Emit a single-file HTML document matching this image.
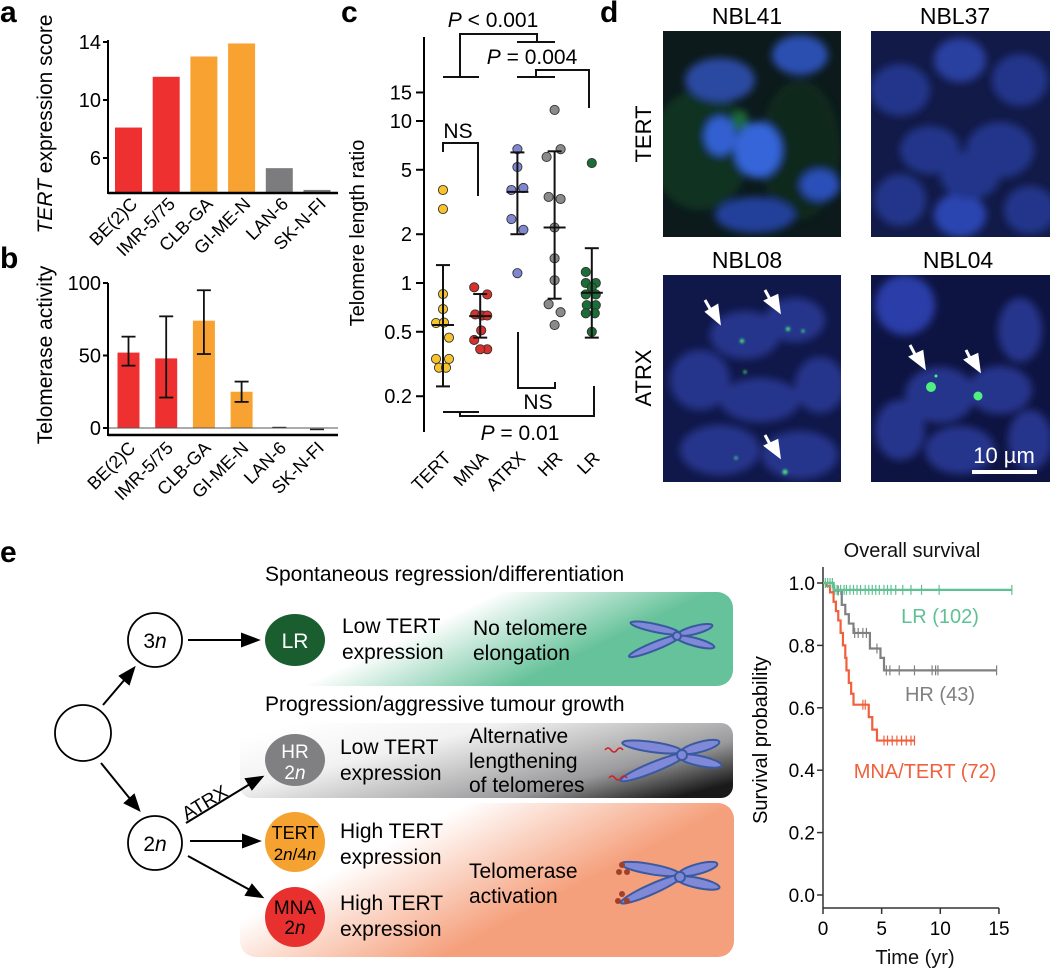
<!DOCTYPE html>
<html><head><meta charset="utf-8">
<style>
html,body{margin:0;padding:0;background:#fff;}
svg{display:block;font-family:"Liberation Sans",Arial,sans-serif;}
</style></head>
<body>
<svg id="fig" width="1050" height="970" viewBox="0 0 1050 970" xmlns="http://www.w3.org/2000/svg">
<defs>
  <filter id="blur4" x="-30%" y="-30%" width="160%" height="160%"><feGaussianBlur stdDeviation="4"/></filter>
  <filter id="blur1" x="-50%" y="-50%" width="200%" height="200%"><feGaussianBlur stdDeviation="1.2"/></filter>
  <linearGradient id="gGreen" x1="0" y1="0.3" x2="1" y2="0.7"><stop offset="0" stop-color="#fff"/><stop offset="0.35" stop-color="#fff"/><stop offset="0.72" stop-color="#66c29a"/><stop offset="1" stop-color="#66c29a"/></linearGradient>
  <linearGradient id="gGray" x1="0" y1="0.2" x2="1" y2="0.8"><stop offset="0" stop-color="#fff"/><stop offset="0.3" stop-color="#f2f2f2"/><stop offset="0.75" stop-color="#9a9a9c"/><stop offset="1" stop-color="#1a1a1a"/></linearGradient>
  <linearGradient id="gOrange" x1="0" y1="0.2" x2="1" y2="0.8"><stop offset="0" stop-color="#fff"/><stop offset="0.25" stop-color="#fff"/><stop offset="0.65" stop-color="#f5a07c"/><stop offset="1" stop-color="#f5a07c"/></linearGradient>
  <clipPath id="c1"><rect x="663" y="31" width="178" height="206"/></clipPath>
  <clipPath id="c2"><rect x="871" y="31" width="179" height="206"/></clipPath>
  <clipPath id="c3"><rect x="663" y="275" width="178" height="207"/></clipPath>
  <clipPath id="c4"><rect x="871" y="275" width="179" height="207"/></clipPath>
</defs>

<text x="0" y="22" font-size="30" font-weight="bold">a</text>
<text x="0" y="268" font-size="30" font-weight="bold">b</text>
<text x="341" y="22" font-size="30" font-weight="bold">c</text>
<text x="600" y="22" font-size="30" font-weight="bold">d</text>
<text x="0" y="562" font-size="30" font-weight="bold">e</text>

<g id="panelA"></g>
<g id="panelB"></g>
<g id="panelC"></g>

<g>
  <text x="747" y="24" font-size="23" text-anchor="middle">NBL41</text>
  <text x="955" y="24" font-size="23" text-anchor="middle">NBL37</text>
  <text x="747" y="268" font-size="23" text-anchor="middle">NBL08</text>
  <text x="958" y="268" font-size="23" text-anchor="middle">NBL04</text>
  <text transform="translate(651,134) rotate(-90)" font-size="22" text-anchor="middle">TERT</text>
  <text transform="translate(651,378) rotate(-90)" font-size="22" text-anchor="middle">ATRX</text>
  <g clip-path="url(#c1)">
    <rect x="663" y="31" width="178" height="206" fill="#0c1a1c"/>
    <g filter="url(#blur4)">
      <ellipse cx="700" cy="150" rx="50" ry="60" fill="#123a22" opacity="0.7"/>
      <ellipse cx="800" cy="150" rx="40" ry="70" fill="#103020" opacity="0.7"/>
      <ellipse cx="720" cy="80" rx="35" ry="22" fill="#2a4aa0"/>
      <ellipse cx="800" cy="55" rx="28" ry="20" fill="#2c4fb0"/>
      <ellipse cx="720" cy="136" rx="16" ry="20" fill="#3060d0"/>
      <ellipse cx="758" cy="150" rx="24" ry="28" fill="#3565d8"/>
      <ellipse cx="820" cy="185" rx="20" ry="16" fill="#2c50b8"/>
      <ellipse cx="755" cy="215" rx="40" ry="18" fill="#22409a"/>
      <ellipse cx="740" cy="120" rx="8" ry="10" fill="#1c6a3a"/>
    </g>
  </g>
  <g clip-path="url(#c2)">
    <rect x="871" y="31" width="179" height="206" fill="#121a48"/>
    <g filter="url(#blur4)" fill="#24348a">
      <ellipse cx="900" cy="90" rx="30" ry="26"/><ellipse cx="960" cy="60" rx="26" ry="22" fill="#2a3fa0"/>
      <ellipse cx="1020" cy="80" rx="28" ry="26"/><ellipse cx="930" cy="150" rx="30" ry="24"/>
      <ellipse cx="1000" cy="150" rx="34" ry="28"/><ellipse cx="900" cy="200" rx="26" ry="26"/>
      <ellipse cx="960" cy="215" rx="26" ry="22" fill="#2c44b0"/><ellipse cx="1030" cy="210" rx="26" ry="24"/>
      <ellipse cx="970" cy="175" rx="30" ry="24"/>
    </g>
  </g>
  <g clip-path="url(#c3)">
    <rect x="663" y="275" width="178" height="207" fill="#10184a"/>
    <g filter="url(#blur4)" fill="#27358c">
      <ellipse cx="745" cy="335" rx="35" ry="24"/><ellipse cx="795" cy="320" rx="30" ry="22"/>
      <ellipse cx="700" cy="380" rx="30" ry="30"/><ellipse cx="760" cy="400" rx="40" ry="22"/>
      <ellipse cx="820" cy="385" rx="25" ry="28"/><ellipse cx="720" cy="450" rx="40" ry="25"/>
      <ellipse cx="800" cy="455" rx="38" ry="24"/>
    </g>
    <g fill="#4cf07a" filter="url(#blur1)">
      <circle cx="742" cy="341" r="2"/><circle cx="788" cy="329" r="2"/><circle cx="803" cy="331" r="1.5"/>
      <circle cx="745" cy="372" r="1.5"/><circle cx="785" cy="472" r="2.5"/><circle cx="736" cy="458" r="1.5"/>
    </g>
    <g stroke="#fff" stroke-width="3" fill="#fff">
      <line x1="705" y1="300" x2="713" y2="314"/><polygon points="707,312 719,322 717,306"/>
      <line x1="765" y1="290" x2="772" y2="303"/><polygon points="766,301 779,311 777,296"/>
      <line x1="765" y1="435" x2="772" y2="448"/><polygon points="766,446 779,456 777,441"/>
    </g>
  </g>
  <g clip-path="url(#c4)">
    <rect x="871" y="275" width="179" height="207" fill="#0e1442"/>
    <g filter="url(#blur4)" fill="#27358c">
      <ellipse cx="905" cy="305" rx="30" ry="30" fill="#2b3ea8"/><ellipse cx="1020" cy="330" rx="22" ry="32"/>
      <ellipse cx="940" cy="395" rx="35" ry="28"/><ellipse cx="1000" cy="390" rx="32" ry="24"/>
      <ellipse cx="900" cy="430" rx="25" ry="30"/><ellipse cx="960" cy="450" rx="35" ry="24"/>
      <ellipse cx="1030" cy="440" rx="22" ry="30"/>
    </g>
    <circle cx="931" cy="387" r="5" fill="#50f080"/><circle cx="978" cy="396" r="4.5" fill="#50f080"/><circle cx="936" cy="376" r="1.5" fill="#50f080"/>
    <g stroke="#fff" stroke-width="3" fill="#fff">
      <line x1="910" y1="345" x2="918" y2="360"/><polygon points="911,357 924,367 922,352"/>
      <line x1="966" y1="350" x2="972" y2="362"/><polygon points="966,360 979,370 977,355"/>
    </g>
  </g>
  <text x="1004" y="463" font-size="22" fill="#fff" text-anchor="middle">10 µm</text>
  <rect x="972" y="470" width="65" height="4" fill="#fff"/>
</g>

<g font-size="21">
  <rect x="240" y="592" width="493" height="94" rx="16" fill="url(#gGreen)"/>
  <rect x="240" y="723" width="493" height="75" rx="12" fill="url(#gGray)"/>
  <rect x="240" y="803" width="494" height="154" rx="16" fill="url(#gOrange)"/>
  <text x="265" y="581">Spontaneous regression/differentiation</text>
  <text x="265" y="711">Progression/aggressive tumour growth</text>
  <g fill="none" stroke="#000" stroke-width="1.8">
    <circle cx="83" cy="733" r="28"/>
    <circle cx="155" cy="640" r="27"/>
    <circle cx="155" cy="843" r="27"/>
  </g>
  <text x="155" y="648" text-anchor="middle" font-size="21">3<tspan font-style="italic">n</tspan></text>
  <text x="155" y="851" text-anchor="middle" font-size="21">2<tspan font-style="italic">n</tspan></text>
  <g stroke="#000" stroke-width="2" fill="#000">
    <line x1="103" y1="705" x2="126" y2="678"/><polygon points="134,668 120,676 129,684"/>
    <line x1="101" y1="763" x2="131" y2="800"/><polygon points="139,810 125,803 134,795"/>
    <line x1="188" y1="640" x2="245" y2="640"/><polygon points="258,640 242,634 242,646"/>
    <line x1="186" y1="823" x2="250" y2="784"/><polygon points="262,777 246,779 252,789"/>
    <line x1="190" y1="841" x2="246" y2="841"/><polygon points="259,841 243,835 243,847"/>
    <line x1="188" y1="856" x2="250" y2="890"/><polygon points="262,897 252,885 246,895"/>
  </g>
  <text transform="translate(208,808) rotate(-31)" font-size="19" text-anchor="middle">ATRX</text>
  <ellipse cx="295" cy="640" rx="30" ry="26" fill="#1a5e30"/>
  <text x="295" y="648" text-anchor="middle" fill="#fff" font-size="21">LR</text>
  <ellipse cx="295" cy="760" rx="30" ry="26" fill="#808082"/>
  <text x="295" y="758" text-anchor="middle" fill="#fff" font-size="19">HR</text>
  <text x="295" y="779" text-anchor="middle" fill="#fff" font-size="19">2<tspan font-style="italic">n</tspan></text>
  <ellipse cx="295" cy="842" rx="30" ry="30" fill="#f5a231"/>
  <text x="295" y="839" text-anchor="middle" font-size="18">TERT</text>
  <text x="295" y="860" text-anchor="middle" font-size="17">2<tspan font-style="italic">n</tspan>/4<tspan font-style="italic">n</tspan></text>
  <ellipse cx="295" cy="917" rx="30" ry="30" fill="#e8312e"/>
  <text x="295" y="914" text-anchor="middle" font-size="19">MNA</text>
  <text x="295" y="934" text-anchor="middle" font-size="19">2<tspan font-style="italic">n</tspan></text>
  <text x="342" y="633">Low TERT</text><text x="342" y="659">expression</text>
  <text x="340" y="754">Low TERT</text><text x="340" y="780">expression</text>
  <text x="340" y="838">High TERT</text><text x="340" y="864">expression</text>
  <text x="340" y="910">High TERT</text><text x="340" y="936">expression</text>
  <text x="473" y="635">No telomere</text><text x="473" y="660">elongation</text>
  <text x="469" y="743">Alternative</text><text x="469" y="768">lengthening</text><text x="469" y="792">of telomeres</text>
  <text x="469" y="878">Telomerase</text><text x="469" y="903">activation</text>
  <g fill="#8088d8" stroke="#3a5aa0" stroke-width="2">
    <g transform="translate(677,636)"><ellipse cx="-22" cy="-8" rx="25" ry="4" transform="rotate(12 -22 -8)"/><ellipse cx="-22" cy="10" rx="28" ry="4" transform="rotate(-22 -22 10)"/><ellipse cx="18" cy="-6" rx="18" ry="4" transform="rotate(-15 18 -6)"/><ellipse cx="18" cy="6" rx="20" ry="4" transform="rotate(15 18 6)"/><circle r="4"/></g>
    <g transform="translate(682,755)"><ellipse cx="-30" cy="-8" rx="30" ry="5" transform="rotate(8 -30 -8)"/><ellipse cx="-28" cy="12" rx="36" ry="5" transform="rotate(-22 -28 12)"/><ellipse cx="18" cy="-8" rx="20" ry="5" transform="rotate(-15 18 -8)"/><ellipse cx="18" cy="6" rx="22" ry="5" transform="rotate(12 18 6)"/><circle r="5"/></g>
    <g transform="translate(680,877)"><ellipse cx="-30" cy="-8" rx="30" ry="5" transform="rotate(10 -30 -8)"/><ellipse cx="-28" cy="12" rx="34" ry="5" transform="rotate(-24 -28 12)"/><ellipse cx="18" cy="-8" rx="20" ry="5" transform="rotate(-15 18 -8)"/><ellipse cx="18" cy="6" rx="22" ry="5" transform="rotate(12 18 6)"/><circle r="5"/></g>
  </g>
  <g stroke="#d0202a" stroke-width="1.5" fill="none"><path d="M605,750 q3,-4 6,0 t6,0 t6,0"/><path d="M609,778 q3,-4 6,0 t6,0 t6,0"/></g>
  <g fill="#a0402a"><circle cx="622" cy="865" r="3"/><circle cx="627" cy="872" r="3"/><circle cx="619" cy="872" r="3"/><circle cx="622" cy="894" r="3"/><circle cx="627" cy="901" r="3"/><circle cx="618" cy="901" r="3"/></g>
</g>

<g id="panelE"></g>
</svg>

<script>
var NS='http://www.w3.org/2000/svg';
function mk(parent,tag,attrs,txt){var e=document.createElementNS(NS,tag);for(var k in attrs)e.setAttribute(k,attrs[k]);if(txt!==undefined)e.textContent=txt;parent.appendChild(e);return e;}

var cellLines=['BE(2)C','IMR-5/75','CLB-GA','GI-ME-N','LAN-6','SK-N-FI'];
var tertScore=[8.1,11.6,13.0,13.9,5.3,3.8];
var barColors=['#ee3030','#ee3030','#f8a231','#f8a231','#7c7c7e','#7c7c7e'];
var aTicks=[6,10,14];
var telActivity=[52,48,74,25,0.3,-1];
var telErrLow=[43,21,51,18,0,-1];
var telErrHigh=[63,77,95,32,0.5,-1];
var bTicks=[0,50,100];

(function(){
  var g=document.getElementById('panelA');
  var x0=108,x1=338,base=193;
  function y(v){return 158-(v-6)*14.5;}
  function xc(i){return 128.5+i*37.7;}
  cellLines.forEach(function(n,i){
    var r=mk(g,'rect',{x:xc(i)-13.5,y:y(tertScore[i]),width:27,height:base-y(tertScore[i]),fill:barColors[i]});
    
    
    var t=mk(g,'text',{transform:'translate('+(xc(i)+10)+',205) rotate(-45)','font-size':18,'text-anchor':'end'},n);
    
    
  });
  mk(g,'line',{x1:x0,y1:y(14)-2,x2:x0,y2:base+1,stroke:'#000','stroke-width':2});
  mk(g,'line',{x1:x0,y1:base,x2:x1,y2:base,stroke:'#000','stroke-width':2.5});
  aTicks.forEach(function(v){
    mk(g,'line',{x1:x0-5,y1:y(v),x2:x0,y2:y(v),stroke:'#000','stroke-width':2});
    var t=mk(g,'text',{x:x0-7,y:y(v)+7,'font-size':20,'text-anchor':'end'},v);
    
    
  });
  var tt=mk(g,'text',{transform:'translate(52,124) rotate(-90)','font-size':21,'text-anchor':'middle'});
  
  
  mk(tt,'tspan',{'font-style':'italic'},'TERT');mk(tt,'tspan',{},' expression score');
})();

(function(){
  var g=document.getElementById('panelB');
  var x0=108,x1=338,axisY=435;
  function y(v){return 428-v*1.45;}
  function xc(i){return 128.5+i*37.7;}
  cellLines.forEach(function(n,i){
    var v=telActivity[i];
    if(Math.abs(v)>2){
      var r=mk(g,'rect',{x:xc(i)-11,y:y(Math.max(v,0)),width:22,height:Math.abs(y(v)-y(0)),fill:barColors[i]});
      
      
      var cx=xc(i);
      mk(g,'line',{x1:cx,y1:y(telErrHigh[i]),x2:cx,y2:y(telErrLow[i]),stroke:'#111','stroke-width':1.8});
      mk(g,'line',{x1:cx-7,y1:y(telErrHigh[i]),x2:cx+7,y2:y(telErrHigh[i]),stroke:'#111','stroke-width':1.8});
      mk(g,'line',{x1:cx-7,y1:y(telErrLow[i]),x2:cx+7,y2:y(telErrLow[i]),stroke:'#111','stroke-width':1.8});
    } else {
      var l=mk(g,'line',{x1:xc(i)-7,y1:y(v),x2:xc(i)+7,y2:y(v),stroke:'#222','stroke-width':1.5});
      
      
    }
    var t=mk(g,'text',{transform:'translate('+(xc(i)+8)+',449) rotate(-45)','font-size':18,'text-anchor':'end'},n);
    
    
  });
  mk(g,'line',{x1:x0,y1:y(0),x2:x1,y2:y(0),stroke:'#555','stroke-width':1});
  mk(g,'line',{x1:x0,y1:y(100),x2:x0,y2:axisY+1,stroke:'#000','stroke-width':2});
  mk(g,'line',{x1:x0,y1:axisY,x2:x1,y2:axisY,stroke:'#000','stroke-width':2.5});
  bTicks.forEach(function(v){
    mk(g,'line',{x1:x0-5,y1:y(v),x2:x0,y2:y(v),stroke:'#000','stroke-width':2});
    var t=mk(g,'text',{x:x0-7,y:y(v)+7,'font-size':20,'text-anchor':'end'},v);
    
    
  });
  var tt=mk(g,'text',{transform:'translate(52,355) rotate(-90)','font-size':21,'text-anchor':'middle'},'Telomerase activity');
  
  
})();

var groups=['TERT','MNA','ATRX','HR','LR'];
var groupColors=['#f7c22a','#d8302a','#7f87d2','#8a8a8c','#1a6e36'];
var valsTERT=[3.75,2.86,0.855,0.69,0.566,0.57,0.46,0.34,0.34,0.30,0.30];
var jitTERT=[0,0,0,0,-7,1,6,-7,6,-4,3];
var valsMNA=[0.94,0.85,0.64,0.63,0.63,0.51,0.445,0.39,0.39];
var jitMNA=[-6,7,-5,2,7,1,-6,7,0];
var valsATRX=[6.7,5.2,3.75,3.86,2.48,2.13,1.15];
var jitATRX=[0,0,-6,6,-6,6,0];
var valsHR=[11.7,6.0,6.7,3.4,3.3,2.2,1.42,1.04,0.74,0.66,0.55];
var jitHR=[0,-8,6,-6,6,0,0,0,-6,6,0];
var valsLR=[5.5,1.17,1.0,1.0,0.94,0.85,0.85,0.73,0.73,0.65,0.65,0.5];
var jitLR=[0,-6,-6,4,0,-6,4,-5,4,-6,3,0];
var groupMean=[0.55,0.625,3.65,2.2,0.87];
var groupErrHigh=[1.29,0.855,6.4,6.5,1.64];
var groupErrLow=[0.23,0.46,2.0,0.8,0.46];
var cTicks=[0.2,0.5,1,2,5,10,15];

(function(){
  var g=document.getElementById('panelC');
  var axX=424;
  function y(v){return 283-Math.log10(v)*162;}
  function xc(i){return 443+i*37.2;}
  var allVals=[valsTERT,valsMNA,valsATRX,valsHR,valsLR];
  var allJit=[jitTERT,jitMNA,jitATRX,jitHR,jitLR];
  groups.forEach(function(n,i){
    var cx=xc(i);
    allVals[i].forEach(function(v,j){
      var c=mk(g,'circle',{cx:cx+allJit[i][j],cy:y(v),r:4.6,fill:groupColors[i],stroke:'#333','stroke-width':0.9});
      
      
    });
    mk(g,'line',{x1:cx,y1:y(groupErrHigh[i]),x2:cx,y2:y(groupErrLow[i]),stroke:'#111','stroke-width':2});
    mk(g,'line',{x1:cx-7,y1:y(groupErrHigh[i]),x2:cx+7,y2:y(groupErrHigh[i]),stroke:'#111','stroke-width':2});
    mk(g,'line',{x1:cx-7,y1:y(groupErrLow[i]),x2:cx+7,y2:y(groupErrLow[i]),stroke:'#111','stroke-width':2});
    mk(g,'line',{x1:cx-11,y1:y(groupMean[i]),x2:cx+11,y2:y(groupMean[i]),stroke:'#111','stroke-width':2});
    var t=mk(g,'text',{transform:'translate('+(cx+9)+',459) rotate(-45)','font-size':18,'text-anchor':'end'},n);
    
    
  });
  mk(g,'line',{x1:axX,y1:37,x2:axX,y2:432,stroke:'#000','stroke-width':2});
  cTicks.forEach(function(v){
    mk(g,'line',{x1:axX-8,y1:y(v),x2:axX,y2:y(v),stroke:'#000','stroke-width':2});
    var t=mk(g,'text',{x:axX-12,y:y(v)+7,'font-size':20,'text-anchor':'end'},v);
    
    
  });
  var tt=mk(g,'text',{transform:'translate(364,233) rotate(-90)','font-size':20,'text-anchor':'middle'},'Telomere length ratio');
  
  
  var br='M443,77 H479 M460,77 V34 H537 V42 M517,42 H555 '+
         'M517,77 H555 M536,77 V70 H589 V108 '+
         'M443,152 V143 H478 V196 '+
         'M518,332 V388 H555 V382 '+
         'M443,412 H479 M460,412 V416 H594 V386';
  var b=mk(g,'path',{d:br,fill:'none',stroke:'#111','stroke-width':2});
  
  
  function ptxt(x,yy,rest,name){var t=mk(g,'text',{x:x,y:yy,'font-size':21,'text-anchor':'middle'});mk(t,'tspan',{'font-style':'italic'},'P');mk(t,'tspan',{},rest);
    
    }
  ptxt(493,27,' < 0.001','p-value-top');
  ptxt(532,64,' = 0.004','p-value-second');
  ptxt(520,440,' = 0.01','p-value-bottom');
  var n1=mk(g,'text',{x:458,y:138,'font-size':21,'text-anchor':'middle'},'NS');
  
  
  var n2=mk(g,'text',{x:538,y:409,'font-size':21,'text-anchor':'middle'},'NS');
  
  
})();

var lrTimes=[0,0.9,16.1];
var lrSurv=[1.0,0.978,0.978];
var lrCensor=[0.2,0.4,0.6,0.8,1.0,1.2,1.5,1.8,2.0,2.3,2.6,2.9,3.2,3.6,3.9,4.2,4.5,4.8,5.2,5.5,5.8,6.2,6.8,7.5,8.4,9.9,16.1];
var hrTimes=[0,0.9,1.6,1.9,2.2,2.6,4.0,4.9,5.2,14.8];
var hrSurv=[1.0,0.976,0.93,0.9,0.87,0.84,0.79,0.76,0.72,0.72];
var hrCensor=[1.3,2.7,3.0,3.4,3.7,4.6,5.4,5.7,6.5,7.8,9.3,9.6,9.8,14.8];
var mnaTimes=[0,0.3,0.6,0.9,1.1,1.3,1.5,1.7,1.9,2.0,2.2,2.4,2.6,3.9,4.2,4.6,7.8];
var mnaSurv=[1.0,0.99,0.97,0.94,0.91,0.88,0.84,0.80,0.76,0.72,0.68,0.645,0.61,0.57,0.53,0.495,0.495];
var mnaCensor=[3.4,3.6,5.2,5.5,5.9,6.3,6.7,7.1,7.5,7.8];
var survTicksY=[0,0.2,0.4,0.6,0.8,1.0];
var survTicksX=[0,5,10,15];

(function(){
  var g=document.getElementById('panelE');
  function sx(t){return 823+t*11.73;}
  function sy(p){return 895-p*312;}
  function curve(times,surv,censor,color,name){
    var d='M'+sx(times[0])+','+sy(surv[0]);
    for(var i=1;i<times.length;i++){d+=' H'+sx(times[i])+' V'+sy(surv[i]);}
    var p=mk(g,'path',{d:d,fill:'none',stroke:color,'stroke-width':2.2});
    
    
    censor.forEach(function(t){
      var s=surv[0];for(var i=0;i<times.length;i++){if(times[i]<=t)s=surv[i];}
      var c=mk(g,'line',{x1:sx(t),y1:sy(s)-5,x2:sx(t),y2:sy(s)+5,stroke:color,'stroke-width':1.2});
      
      
    });
  }
  mk(g,'line',{x1:823,y1:567,x2:823,y2:908,stroke:'#333','stroke-width':1.5});
  mk(g,'line',{x1:823,y1:908,x2:sx(15),y2:908,stroke:'#333','stroke-width':1.5});
  survTicksY.forEach(function(v){
    mk(g,'line',{x1:817,y1:sy(v),x2:823,y2:sy(v),stroke:'#333','stroke-width':1.5});
    var t=mk(g,'text',{x:815,y:sy(v)+7,'font-size':19,'text-anchor':'end'},v.toFixed(1));
    
    
  });
  survTicksX.forEach(function(v){
    mk(g,'line',{x1:sx(v),y1:908,x2:sx(v),y2:914,stroke:'#333','stroke-width':1.5});
    var t=mk(g,'text',{x:sx(v),y:935,'font-size':19,'text-anchor':'middle'},v);
    
    
  });
  curve(hrTimes,hrSurv,hrCensor,'#808082','hr');
  curve(mnaTimes,mnaSurv,mnaCensor,'#f0603c','mna-tert');
  curve(lrTimes,lrSurv,lrCensor,'#5fc193','lr');
  function lab(x,yy,txt,col,name){var t=mk(g,'text',{x:x,y:yy,'font-size':20,'text-anchor':'middle',fill:col},txt);
    
    }
  lab(940,623,'LR (102)','#5fc193','lr-label');
  lab(940,701,'HR (43)','#808082','hr-label');
  lab(925,778,'MNA/TERT (72)','#f0603c','mna-tert-label');
  lab(912,557,'Overall survival','#111','survival-title');
  lab(915,964,'Time (yr)','#111','survival-x-axis-title');
  var tt=mk(g,'text',{transform:'translate(767,740) rotate(-90)','font-size':20,'text-anchor':'middle'},'Survival probability');
  
  
})();
</script>
</body></html>
